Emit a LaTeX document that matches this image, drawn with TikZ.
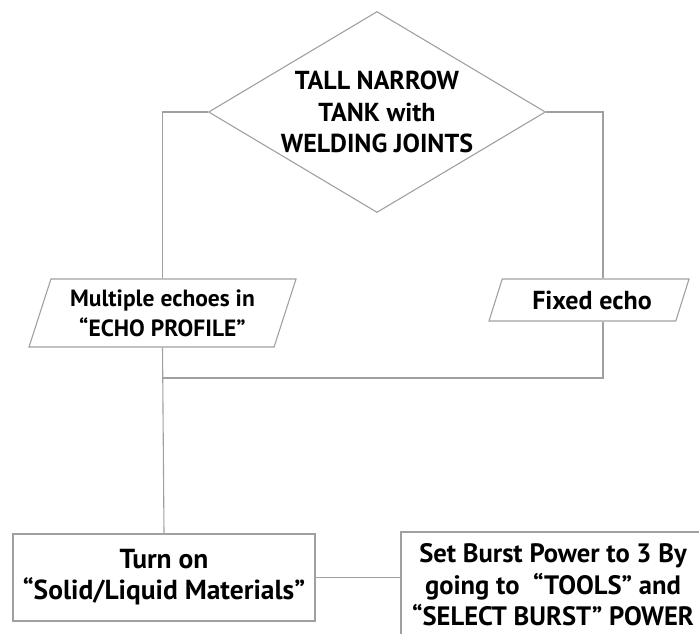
\documentclass[tikz,border=0pt]{standalone}
\usepackage{fontspec}
\setmainfont{PT Sans}
\usetikzlibrary{shapes.geometric}
\definecolor{linegray}{HTML}{A0A0A0}
\newcommand{\flowfont}[2]{\bfseries\fontsize{#1}{#2}\selectfont}
\tikzset{
  flow/.style={draw=linegray, line width=1.1pt},
  txt/.style={font=\flowfont{23.5}{30}, align=center, inner sep=0pt},
  echo/.style={txt, trapezium, draw=linegray, line width=1.1pt,
    trapezium stretches body=true},
  stepbox/.style={txt, rectangle, draw=linegray, line width=1.1pt}
}
\begin{document}
\begin{tikzpicture}[x=1pt, y=-1pt]
    \useasboundingbox (0,0) rectangle (699,633);

    % decision
    \node[txt, font=\flowfont{26}{31.5}, diamond, draw=linegray, line width=1.1pt,
      aspect=1.68, minimum width=337pt, minimum height=201pt] (tank) at (377,112)
      {TALL NARROW\\TANK with\\WELDING JOINTS};

    % the two echo cases
    \node[echo, trapezium left angle=65, trapezium right angle=115,
      minimum width=267pt, minimum height=68pt] (multi) at (162.5,313)
      {Multiple echoes in\\``ECHO PROFILE''};
    \node[echo, font=\flowfont{26}{30}, trapezium left angle=55,
      trapezium right angle=125, minimum width=200pt, minimum height=42pt]
      (fixed) at (589,300) {\hspace*{6pt}Fixed echo};

    % steps
    \node[stepbox, font=\flowfont{27.5}{31}, minimum width=302pt,
      minimum height=87pt] (turn) at (164,577.5)
      {Turn on\\``Solid/Liquid Materials''};
    \node[stepbox, font=\flowfont{26.6}{31.5}, minimum width=304pt,
      minimum height=106pt] (burst) at (553,585)
      {Set Burst Power to 3 By\\going to ~``TOOLS'' and\\``SELECT BURST'' POWER};

    \coordinate (join) at (162.5,378);

    \draw[flow] (tank.west) -| (multi.north);
    \draw[flow] (tank.east) -| ([xshift=14pt]fixed.north);
    \draw[flow] ([xshift=14pt]fixed.south) |- (join);
    \draw[flow] (multi.south) -- (turn.north);
    \draw[flow] (turn.east) -- (turn.east -| burst.west);
\end{tikzpicture}
\end{document}
